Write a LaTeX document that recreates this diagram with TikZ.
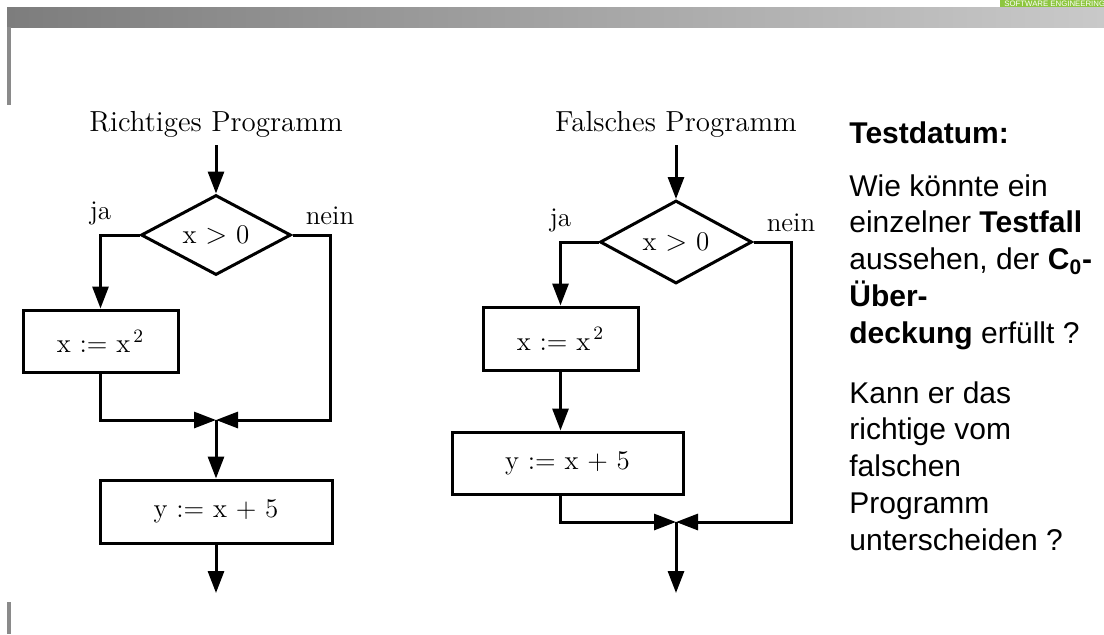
\documentclass[tikz,border=0pt]{standalone}
\usepackage{fontspec}
\usetikzlibrary{positioning,shapes.geometric,arrows.meta}
\newfontfamily\arialfont{Liberation Sans}
\definecolor{headdark}{RGB}{125,125,125}
\definecolor{headlight}{RGB}{201,201,201}
\definecolor{sidegray}{RGB}{138,138,138}
\definecolor{segreen}{RGB}{141,198,63}

\begin{document}
\begin{tikzpicture}[x=0.5pt,y=-0.5pt,
    box/.style={rectangle,draw,line width=1.5pt,inner sep=0pt,font=\fontsize{13.5}{16}\selectfont},
    decision/.style={diamond,draw,line width=1.5pt,aspect=1.875,inner sep=0pt,font=\fontsize{13.5}{16}\selectfont},
    arrow/.style={-{Triangle[length=11pt,width=8pt]},line width=1.5pt},
    title/.style={font=\fontsize{14.5}{17}\selectfont},
    branch/.style={font=\fontsize{13.5}{16}\selectfont},
    question/.style={anchor=base west,align=left,inner sep=0pt,font=\arialfont\fontsize{15}{18.35}\selectfont}]

    % slide frame
    \useasboundingbox (0,0) rectangle (1104,634);
    \shade[left color=headdark,right color=headlight] (7,7) rectangle (1104,27);
    \fill[sidegray] (7,27) rectangle (11,105);
    \fill[sidegray] (7,602) rectangle (11,634);
    \fill[segreen] (1000,0) rectangle (1104,7);
    \node[anchor=west,inner sep=0pt,text=white,font=\arialfont\fontsize{3.9}{3.9}\selectfont] (logo) at (1004,3.7) {SOFTWARE ENGINEERING};

    % richtiges Programm
    \coordinate (startL) at (216,145);
    \node[title,above=0pt of startL] (titleL) {Richtiges Programm};
    \node[decision,minimum width=75pt,minimum height=40pt] (condL) at (216,235) {x $>$ 0};
    \node[box,minimum width=77.5pt,minimum height=31pt] (sqL) at (100.5,341) {x := x\textsuperscript{\,2}};
    \node[box,minimum width=116pt,minimum height=31.5pt] (assL) at (216,511.5) {y := x + 5};
    \coordinate (cornerL) at (330,420);
    \coordinate (mergeL) at (216,420);
    \coordinate (endL) at (216,593);

    \draw[arrow] (startL) -- (condL);
    \draw[arrow] (condL.west) -| node[branch,pos=0.5,above=1pt] {ja} (sqL);
    \draw[arrow] (condL.east) -| node[branch,pos=0.5,above=1pt] {nein} (cornerL) -- (mergeL);
    \draw[arrow] (sqL) |- (mergeL);
    \draw[arrow] (mergeL) -- (assL);
    \draw[arrow] (assL) -- (endL);

    % falsches Programm
    \coordinate (startR) at (676,145);
    \node[title,above=0pt of startR] (titleR) {Falsches Programm};
    \node[decision,minimum width=76pt,minimum height=41.5pt] (condR) at (676,242) {x $>$ 0};
    \node[box,minimum width=77.5pt,minimum height=31.5pt] (sqR) at (560.5,338.5) {x := x\textsuperscript{\,2}};
    \node[box,minimum width=115.5pt,minimum height=31pt] (assR) at (567.5,463) {y := x + 5};
    \coordinate (cornerR) at (791,522);
    \coordinate (mergeR) at (676,522);
    \coordinate (endR) at (676,593);

    \draw[arrow] (startR) -- (condR);
    \draw[arrow] (condR.west) -| node[branch,pos=0.5,above=1pt] {ja} (sqR);
    \draw[arrow] (condR.east) -| node[branch,pos=0.5,above=1pt] {nein} (cornerR) -- (mergeR);
    \draw[arrow] (sqR) -- (sqR.south |- assR.north);
    \draw[arrow] (sqR.south |- assR.south) |- (mergeR);
    \draw[arrow] (mergeR) -- (endR);

    % Fragen (base = letzte Zeile)
    \node[question] (datum) at (849,143) {\bfseries Testdatum:};
    \node[question] (askone) at (849,343) {Wie könnte ein\\einzelner \textbf{Testfall}\\aussehen, der \textbf{C\textsubscript{0}-}\\\textbf{Über-}\\\textbf{deckung} erfüllt ?};
    \node[question] (asktwo) at (849,550) {Kann er das\\richtige vom\\falschen\\Programm\\unterscheiden ?};

\end{tikzpicture}
\end{document}
